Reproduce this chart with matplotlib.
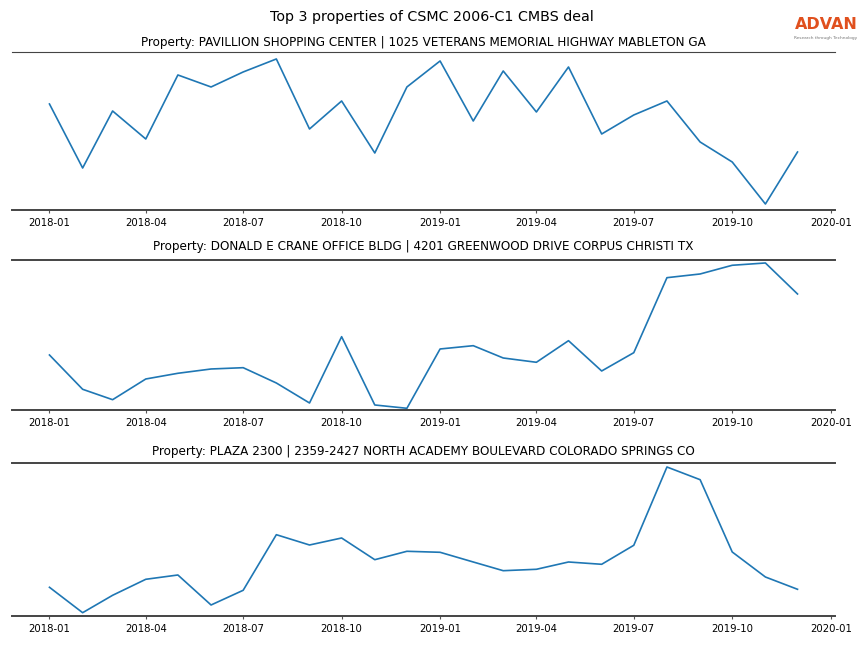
import matplotlib
matplotlib.use('Agg')
import matplotlib.pyplot as plt
import matplotlib.dates as mdates
import pandas as pd

months = pd.date_range('2018-01-01', periods=24, freq='MS')

titles = [
    'Property: PAVILLION SHOPPING CENTER | 1025 VETERANS MEMORIAL HIGHWAY MABLETON GA',
    'Property: DONALD E CRANE OFFICE BLDG | 4201 GREENWOOD DRIVE CORPUS CHRISTI TX',
    'Property: PLAZA 2300 | 2359-2427 NORTH ACADEMY BOULEVARD COLORADO SPRINGS CO',
]

pavillion = [106, 42, 99, 71, 135, 123, 138, 151, 81, 109, 57, 123,
             149, 89, 139, 98, 143, 76, 95, 109, 68, 48, 6, 58]
crane = [55, 20.7, 10.3, 31, 36.7, 41, 42.3, 27, 7, 73.3, 5, 1.7,
         61, 64.3, 52, 47.7, 69.3, 39, 57.3, 132.3, 136, 144.7, 147, 116]
plaza = [28.7, 3.3, 20.7, 36.7, 41, 11, 25.7, 81.3, 71, 78, 56.3, 64.7,
         63.7, 54, 45.3, 46.7, 54, 51.7, 70.7, 149, 136.3, 64, 39, 26.7]

series = [pavillion, crane, plaza]
ytops = [158, 150, 153]

fig = plt.figure(figsize=(8.64, 6.48), dpi=100)
fig.suptitle('Top 3 properties of CSMC 2006-C1 CMBS deal', fontsize=10.3, y=0.985)

# axes boxes in figure fractions (left, bottom, width, height)
boxes = [
    (0.0139, 0.6759, 0.9525, 0.2439),
    (0.0139, 0.3673, 0.9525, 0.2315),
    (0.0139, 0.0494, 0.9525, 0.2361),
]
pads = [4, 7, 6]

for i, (vals, title, box) in enumerate(zip(series, titles, boxes)):
    ax = fig.add_axes(box)
    ax.plot(months, vals, color='#1f77b4', lw=1.2)
    ax.set_title(title, fontsize=8.65, pad=pads[i])
    ax.set_xlim(pd.Timestamp('2017-11-27'), pd.Timestamp('2020-01-05'))
    ax.set_ylim(0, ytops[i])
    ax.xaxis.set_major_locator(mdates.MonthLocator(bymonth=[1, 4, 7, 10]))
    ax.xaxis.set_major_formatter(mdates.DateFormatter('%Y-%m'))
    ax.tick_params(axis='x', labelsize=7.3, length=2.5, color='#555555')
    ax.set_yticks([])
    ax.spines['left'].set_visible(False)
    ax.spines['right'].set_visible(False)
    for s in ['top', 'bottom']:
        ax.spines[s].set_color('#444444')
        ax.spines[s].set_linewidth(1.4)
    if i == 0:
        ax.spines['top'].set_linewidth(0.8)

# ADVAN logo
fig.text(0.9560, 0.9615, 'ADVAN', fontsize=11.5, weight='bold', color='#E0501E',
         ha='center', va='center')
fig.text(0.9560, 0.942, 'Research through Technology', fontsize=3.1, color='#777777',
         ha='center', va='center')

fig.savefig('out.png', dpi=100)
